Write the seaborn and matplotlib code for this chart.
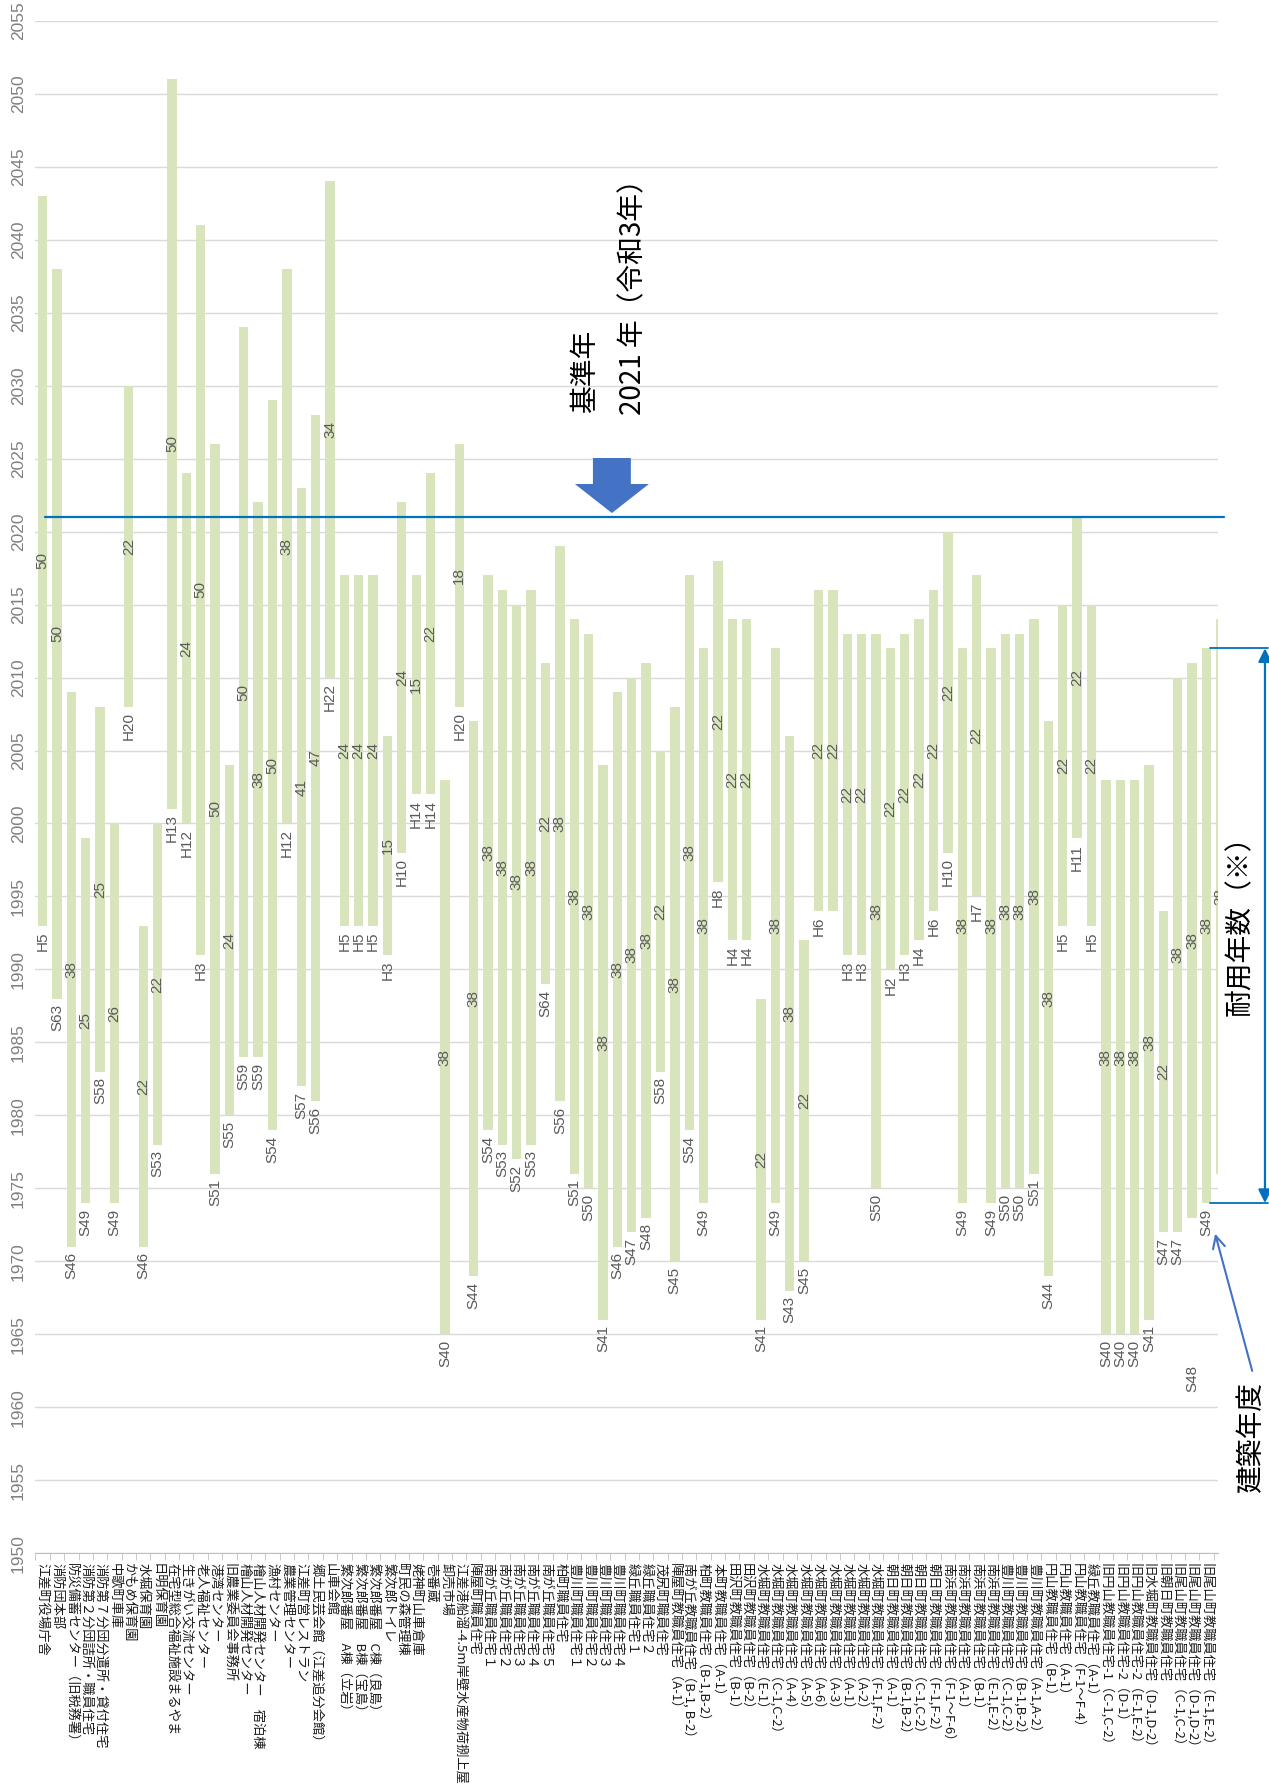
import numpy as np
import pandas as pd
import matplotlib
matplotlib.use("Agg")
import matplotlib.pyplot as plt
from matplotlib.patches import FancyArrow
import seaborn as sns

# -----------------------------
# Data
# -----------------------------
names = [
    "江差町役場庁舎", "消防団本部", "防災備蓄センター（旧税務署）",
    "消防第２分団詰所・職員住宅", "消防第７分団分遣所・貸付住宅", "中歌町車庫",
    "かもめ保育園", "水堀保育園", "日明保育園", "在宅型総合福祉施設まるやま",
    "生きがい交流センター", "老人福祉センター", "港湾センター", "旧農業委員会事務所",
    "檜山人材開発センター", "檜山人材開発センター　宿泊棟", "漁村センター",
    "農業管理センター", "江差町営レストラン", "郷土民芸会館（江差追分会館）",
    "山車会館", "繁次郎番屋　A棟（立岩）", "繁次郎番屋　B棟（宝島）",
    "繁次郎番屋　C棟（良島）", "繁次郎トイレ", "町民の森管理棟", "姥神町山車倉庫",
    "壱番蔵", "卸売市場", "江差港船溜-4.5m岸壁水産物荷捌上屋", "陣屋町職員住宅",
    "南が丘職員住宅１", "南が丘職員住宅２", "南が丘職員住宅３", "南が丘職員住宅４",
    "南が丘職員住宅５", "柏町職員住宅", "豊川町職員住宅１", "豊川町職員住宅２",
    "豊川町職員住宅３", "豊川町職員住宅４", "緑丘職員住宅１", "緑丘職員住宅２",
    "茂尻町職員住宅", "陣屋町教職員住宅（A-1）", "南が丘教職員住宅（B-1, B-2）",
    "柏町教職員住宅（B-1,B-2）", "本町教職員住宅（A-1）", "田沢町教職員住宅（B-1）",
    "田沢町教職員住宅（B-2）", "水堀町教職員住宅（E-1）", "水堀町教職員住宅（C-1,C-2）",
    "水堀町教職員住宅（A-4）", "水堀町教職員住宅（A-5）", "水堀町教職員住宅（A-6）",
    "水堀町教職員住宅（A-3）", "水堀町教職員住宅（A-1）", "水堀町教職員住宅（A-2）",
    "水堀町教職員住宅（F-1,F-2）", "朝日町教職員住宅（A-1）", "朝日町教職員住宅（B-1,B-2）",
    "朝日町教職員住宅（C-1,C-2）", "朝日町教職員住宅（F-1,F-2）",
    "南浜町教職員住宅（F-1～F-6）", "南浜町教職員住宅（A-1）", "南浜町教職員住宅（B-1）",
    "南浜町教職員住宅（E-1,E-2）", "豊川町教職員住宅（C-1,C-2）",
    "豊川町教職員住宅（B-1,B-2）", "豊川町教職員住宅（A-1,A-2）", "円山教職員住宅（B-1）",
    "円山教職員住宅（A-1）", "円山教職員住宅（F-1～F-4）", "緑丘教職員住宅（A-1）",
    "旧円山教職員住宅-1（C-1,C-2）", "旧円山教職員住宅-2（D-1）",
    "旧円山教職員住宅-2（E-1,E-2）", "旧水堀町教職員住宅（D-1,D-2）", "旧朝日町教職員住宅",
    "旧尾山町教職員住宅（C-1,C-2）", "旧尾山町教職員住宅（D-1,D-2）",
    "旧尾山町教職員住宅（E-1,E-2）", "…",
]

# construction year (western calendar)
start = [
    1993, 1988, 1971, 1974, 1983, 1974, 2008, 1971, 1978, 2001,
    2000, 1991, 1976, 1980, 1984, 1984, 1979, 2000, 1982, 1981,
    2010, 1993, 1993, 1993, 1991, 1998, 2002, 2002, 1965, 2008,
    1969, 1979, 1978, 1977, 1978, 1989, 1981, 1976, 1975, 1966,
    1971, 1972, 1973, 1983, 1970, 1979, 1974, 1996, 1992, 1992,
    1966, 1974, 1968, 1970, 1994, 1994, 1991, 1991, 1975, 1990,
    1991, 1992, 1994, 1998, 1974, 1995, 1974, 1975, 1975, 1976,
    1969, 1993, 1999, 1993, 1965, 1965, 1965, 1966, 1972, 1972,
    1973, 1974, 1976,
]

# construction year as printed (Japanese era)
era = [
    "H5", "S63", "S46", "S49", "S58", "S49", "H20", "S46", "S53", "H13",
    "H12", "H3", "S51", "S55", "S59", "S59", "S54", "H12", "S57", "S56",
    "H22", "H5", "H5", "H5", "H3", "H10", "H14", "H14", "S40", "H20",
    "S44", "S54", "S53", "S52", "S53", "S64", "S56", "S51", "S50", "S41",
    "S46", "S47", "S48", "S58", "S45", "S54", "S49", "H8", "H4", "H4",
    "S41", "S49", "S43", "S45", "H6", "", "H3", "H3", "S50", "H2",
    "H3", "H4", "H6", "H10", "S49", "H7", "S49", "S50", "S50", "S51",
    "S44", "H5", "H11", "H5", "S40", "S40", "S40", "S41", "S47", "S47",
    "S48", "S49", "S51",
]

# service life (years)
life = [
    50, 50, 38, 25, 25, 26, 22, 22, 22, 50,
    24, 50, 50, 24, 50, 38, 50, 38, 41, 47,
    34, 24, 24, 24, 15, 24, 15, 22, 38, 18,
    38, 38, 38, 38, 38, 22, 38, 38, 38, 38,
    38, 38, 38, 22, 38, 38, 38, 22, 22, 22,
    22, 38, 38, 22, 22, 22, 22, 22, 38, 22,
    22, 22, 22, 22, 38, 22, 38, 38, 38, 38,
    38, 22, 22, 22, 38, 38, 38, 38, 22, 38,
    38, 38, 38,
]

base_year = 2021
year_ticks = list(range(1950, 2056, 5))

df = pd.DataFrame({"name": names, "start": start, "life": life, "era": era})

# -----------------------------
# Style
# -----------------------------
sns.set_style("white")
plt.rcParams["font.family"] = ["Noto Sans CJK JP", "DejaVu Sans"]
num_font = ["Liberation Sans Narrow", "Liberation Sans", "DejaVu Sans"]

GREEN = "#D8E4BC"
BLUE_LINE = "#0070C0"
BLUE_ARROW = "#4472C4"

fig = plt.figure(figsize=(12.69, 17.85), dpi=100)
ax = fig.add_axes([0.0279, 0.1298, 0.9319, 0.8586])

# floating bars: start year -> start + life
sns.barplot(
    data=df, x="name", y="life", order=names,
    bottom=df["start"].to_numpy(), color=GREEN, saturation=1,
    width=0.65, errorbar=None, linewidth=0, ax=ax,
)

# -----------------------------
# Axes
# -----------------------------
ax.set_yticks(year_ticks)
ax.set_yticklabels([str(y) for y in year_ticks], rotation=90, va="center",
                   color="#808080", fontsize=12.5, family=num_font)
ax.yaxis.grid(True, color="#D9D9D9", linewidth=1)
ax.set_axisbelow(True)

ax.set_xticks(range(len(names)))
ax.set_xticklabels(names, rotation=270, ha="center", va="top",
                   fontsize=9.5, color="#1a1a1a")
ax.set_xticks(np.arange(-0.5, len(names), 1), minor=True)
ax.tick_params(axis="x", which="major", length=0, pad=7)
ax.tick_params(axis="x", which="minor", length=5, color="#BFBFBF", bottom=True)
ax.tick_params(axis="y", length=0, pad=7)
ax.set_xlabel("")
ax.set_ylabel("")

# set limits after the ticks (set_xticks widens the view)
ax.set_ylim(1950, 2055)
ax.set_xlim(-0.5, 81.8)

for side in ["left", "right", "top"]:
    ax.spines[side].set_visible(False)
ax.spines["bottom"].set_color("#BFBFBF")

# -----------------------------
# Bar labels
# -----------------------------
moved = {80: 1962}  # this label sits lower in the original chart
for i, row in df.iterrows():
    if row["era"]:
        if i in moved:
            ax.text(i, moved[i], row["era"], rotation=90, ha="center", va="center",
                    fontsize=11, color="#595959", family=num_font, clip_on=True)
        else:
            ax.annotate(row["era"], (i, row["start"]), xytext=(0, -4),
                        textcoords="offset points", rotation=90, ha="center",
                        va="top", fontsize=11, color="#595959", family=num_font,
                        annotation_clip=True, clip_on=True)
    ax.text(i, row["start"] + row["life"] / 2, str(row["life"]), rotation=90,
            ha="center", va="center", fontsize=11, color="#595959",
            family=num_font, clip_on=True)

# -----------------------------
# Annotations
# -----------------------------
ax.plot([0.2, 82.2], [base_year, base_year], color=BLUE_LINE, lw=1.6,
        clip_on=False, zorder=4, scalex=False, scaley=False)

arrow = FancyArrow(39.62, 2025.04, 0, -3.77, width=2.64, head_width=5.15,
                   head_length=1.99, length_includes_head=True,
                   color=BLUE_ARROW, linewidth=0, zorder=5)
ax.add_patch(arrow)

ax.text(37.75, 2028.1, "基準年", rotation=90, ha="center", va="bottom",
        fontsize=20, color="black")
ax.text(41.1, 2028.0, "2021 年（令和3年）", rotation=90, ha="center",
        va="bottom", fontsize=20, color="black")

# life span dimension on the right
last = 81
top_y = start[last] + life[last]
bot_y = start[last]
for yy in (top_y, bot_y):
    ax.plot([81.24, 85.3], [yy, yy], color=BLUE_LINE, lw=1.3, clip_on=False,
            scalex=False, scaley=False)
ax.annotate("", xy=(85.07, top_y), xytext=(85.07, bot_y),
            arrowprops=dict(arrowstyle="<|-|>", color=BLUE_LINE, lw=1.6,
                            mutation_scale=20, shrinkA=0, shrinkB=0),
            annotation_clip=False)
ax.text(83.33, 1993.5, "耐用年数（※）", rotation=90, ha="center", va="center",
        fontsize=20, color="black", clip_on=False)

ax.annotate("", xy=(81.6, 1971.9), xytext=(84.18, 1962.5),
            arrowprops=dict(arrowstyle="->", color=BLUE_ARROW, lw=1.5,
                            mutation_scale=22, shrinkA=0, shrinkB=0),
            annotation_clip=False)
ax.text(84.09, 1957.9, "建築年度", rotation=90, ha="center", va="center",
        fontsize=20, color="black", clip_on=False)

fig.savefig("out.png", dpi=100)
